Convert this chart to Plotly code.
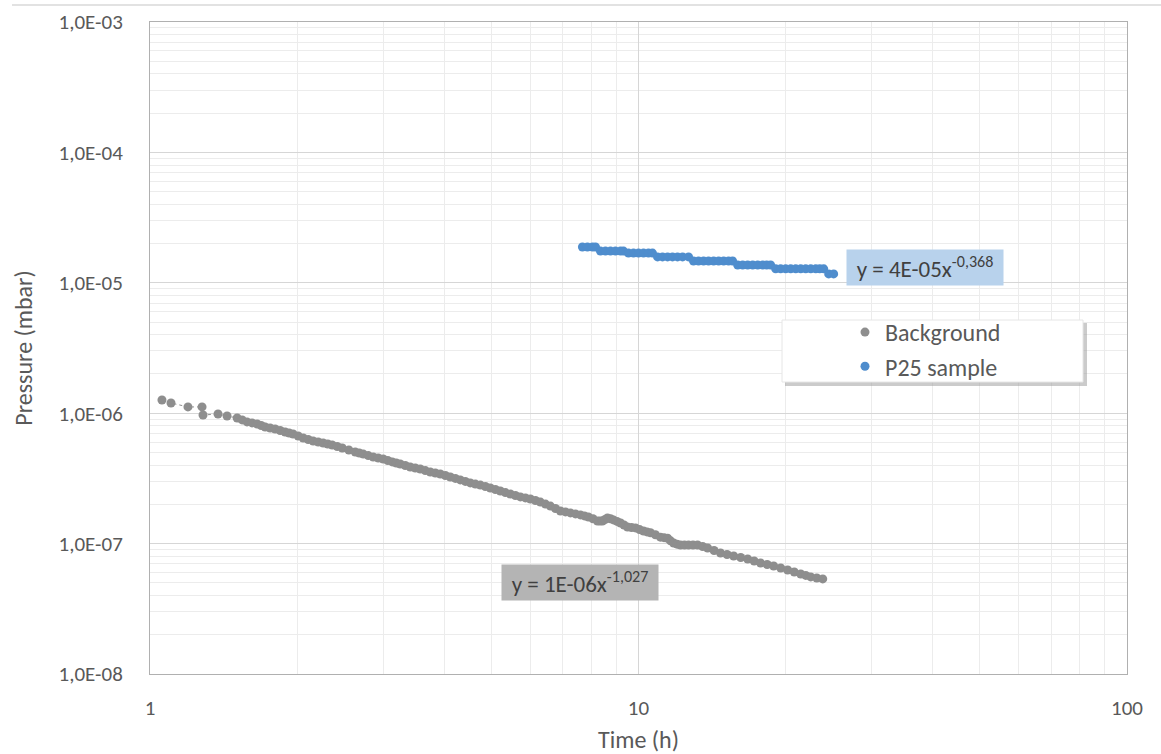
import plotly.graph_objects as go

# ---- Data ----
bg_time = [1.058, 1.104, 1.196, 1.278, 1.284, 1.378, 1.438, 1.508, 1.544, 1.580,
           1.618, 1.657, 1.689, 1.721, 1.762, 1.804, 1.847, 1.891, 1.927, 1.963,
           2.011, 2.059, 2.108, 2.158, 2.210, 2.262, 2.311, 2.360, 2.417, 2.475,
           2.553, 2.631, 2.682, 2.733, 2.798, 2.864, 2.933, 3.002, 3.067, 3.133,
           3.193, 3.253, 3.331, 3.410, 3.492, 3.575, 3.661, 3.748, 3.838, 3.929,
           4.024, 4.119, 4.218, 4.317, 4.421, 4.526, 4.635, 4.745, 4.859, 4.974,
           5.094, 5.214, 5.340, 5.466, 5.598, 5.731, 5.869, 6.008, 6.153, 6.298,
           6.450, 6.602, 6.761, 6.921, 7.088, 7.255, 7.430, 7.605, 7.751, 7.897,
           8.069, 8.241, 8.339, 8.437, 8.538, 8.640, 8.764, 8.888, 9.037, 9.187,
           9.340, 9.494, 9.677, 9.860, 10.05, 10.24, 10.41, 10.58, 10.83, 11.09,
           11.28, 11.47, 11.63, 11.80, 11.99, 12.19, 12.42, 12.66, 12.93, 13.21,
           13.53, 13.85, 14.28, 14.72, 15.18, 15.66, 16.19, 16.73, 17.25, 17.78,
           18.34, 18.91, 19.55, 20.20, 20.84, 21.48, 22.00, 22.52, 23.17, 23.83]
bg_pressure = [1.262e-6, 1.198e-6, 1.117e-6, 1.117e-6, 9.68e-7, 9.86e-7, 9.52e-7, 9.19e-7, 8.88e-7, 8.57e-7,
               8.42e-7, 8.27e-7, 8.05e-7, 7.83e-7, 7.70e-7, 7.56e-7, 7.37e-7, 7.18e-7, 7.05e-7, 6.92e-7,
               6.68e-7, 6.45e-7, 6.28e-7, 6.12e-7, 6.01e-7, 5.91e-7, 5.80e-7, 5.70e-7, 5.55e-7, 5.41e-7,
               5.22e-7, 5.04e-7, 4.95e-7, 4.86e-7, 4.73e-7, 4.61e-7, 4.53e-7, 4.45e-7, 4.34e-7, 4.23e-7,
               4.15e-7, 4.08e-7, 3.97e-7, 3.87e-7, 3.80e-7, 3.73e-7, 3.63e-7, 3.54e-7, 3.48e-7, 3.42e-7,
               3.33e-7, 3.24e-7, 3.16e-7, 3.08e-7, 3.00e-7, 2.92e-7, 2.86e-7, 2.81e-7, 2.74e-7, 2.67e-7,
               2.60e-7, 2.53e-7, 2.46e-7, 2.40e-7, 2.34e-7, 2.28e-7, 2.24e-7, 2.20e-7, 2.14e-7, 2.08e-7,
               2.01e-7, 1.94e-7, 1.86e-7, 1.78e-7, 1.75e-7, 1.72e-7, 1.69e-7, 1.66e-7, 1.63e-7, 1.60e-7,
               1.55e-7, 1.49e-7, 1.49e-7, 1.49e-7, 1.53e-7, 1.57e-7, 1.55e-7, 1.52e-7, 1.48e-7, 1.44e-7,
               1.39e-7, 1.34e-7, 1.33e-7, 1.32e-7, 1.28e-7, 1.25e-7, 1.23e-7, 1.21e-7, 1.17e-7, 1.12e-7,
               1.11e-7, 1.10e-7, 1.05e-7, 1.01e-7, 9.90e-8, 9.75e-8, 9.75e-8, 9.75e-8, 9.75e-8, 9.75e-8,
               9.50e-8, 9.25e-8, 8.86e-8, 8.47e-8, 8.25e-8, 8.04e-8, 7.83e-8, 7.62e-8, 7.36e-8, 7.10e-8,
               6.91e-8, 6.73e-8, 6.50e-8, 6.28e-8, 6.06e-8, 5.85e-8, 5.70e-8, 5.55e-8, 5.45e-8, 5.36e-8]

p25_time = [7.677, 7.861, 8.050, 8.165,
            8.358, 8.558, 8.763, 8.972, 9.187, 9.317,
            9.539, 9.767, 10.00, 10.24, 10.48, 10.68,
            10.94, 11.20, 11.47, 11.74, 12.02, 12.31, 12.66,
            12.96, 13.27, 13.59, 13.91, 14.25, 14.59, 14.94, 15.29, 15.58,
            15.96, 16.34, 16.73, 17.13, 17.54, 17.96, 18.30, 18.64,
            19.09, 19.54, 20.01, 20.49, 20.98, 21.48, 21.99, 22.52, 23.06, 23.50, 23.94,
            24.51, 25.09]
p25_pressure = [1.88e-5, 1.88e-5, 1.88e-5, 1.88e-5,
                1.75e-5, 1.75e-5, 1.75e-5, 1.75e-5, 1.75e-5, 1.75e-5,
                1.69e-5, 1.69e-5, 1.69e-5, 1.69e-5, 1.69e-5, 1.69e-5,
                1.58e-5, 1.58e-5, 1.58e-5, 1.58e-5, 1.58e-5, 1.58e-5, 1.58e-5,
                1.47e-5, 1.47e-5, 1.47e-5, 1.47e-5, 1.47e-5, 1.47e-5, 1.47e-5, 1.47e-5, 1.47e-5,
                1.37e-5, 1.37e-5, 1.37e-5, 1.37e-5, 1.37e-5, 1.37e-5, 1.37e-5, 1.37e-5,
                1.28e-5, 1.28e-5, 1.28e-5, 1.28e-5, 1.28e-5, 1.28e-5, 1.28e-5, 1.28e-5, 1.28e-5, 1.28e-5, 1.28e-5,
                1.17e-5, 1.17e-5]

x_tick_vals = [1, 10, 100]
x_tick_text = ["1", "10", "100"]
y_tick_vals = [1e-8, 1e-7, 1e-6, 1e-5, 1e-4, 1e-3]
y_tick_text = ["1,0E-08", "1,0E-07", "1,0E-06", "1,0E-05", "1,0E-04", "1,0E-03"]

series_names = ["Background", "P25 sample"]
fit_labels = ["y = 1E-06x<sup>-1,027</sup>", "y = 4E-05x<sup>-0,368</sup>"]

GREY = "#8e8e8e"
BLUE = "#4f8dcd"
TXT = "#595959"
FONT = "Carlito, Lato, sans-serif"

fig = go.Figure()
fig.add_trace(go.Scatter(
    x=bg_time, y=bg_pressure, mode="lines", showlegend=False, hoverinfo="skip",
    line=dict(color=GREY, width=1, dash="dot"),
))
fig.add_trace(go.Scatter(
    x=bg_time, y=bg_pressure, name=series_names[0], mode="markers",
    marker=dict(color=GREY, size=9), legendgroup="a",
))
fig.add_trace(go.Scatter(
    x=p25_time, y=p25_pressure, name=series_names[1], mode="markers",
    marker=dict(color=BLUE, size=9), legendgroup="b",
))

W, H = 1161, 754
ML, MT = 150, 22
MR = W - 1127
MB = H - 674
PW, PH = W - ML - MR, H - MT - MB


def px(xp):
    return (xp - ML) / PW


def py(yp):
    return (H - MB - yp) / PH


fig.update_xaxes(
    type="log", range=[0, 2], tickvals=x_tick_vals, ticktext=x_tick_text,
    showgrid=True, gridcolor="#d6d6d6", gridwidth=1,
    minor=dict(dtick="D1", showgrid=True, gridcolor="#ececec", gridwidth=1, ticks=""),
    showline=True, linecolor="#b0b0b0", linewidth=1, mirror=True,
    ticks="outside", ticklen=15, tickcolor="rgba(0,0,0,0)",
    tickfont=dict(family=FONT, size=21, color=TXT),
    title=dict(text="Time (h)", font=dict(family=FONT, size=24, color=TXT), standoff=20),
    zeroline=False,
)
fig.update_yaxes(
    type="log", range=[-8, -3], tickvals=y_tick_vals, ticktext=y_tick_text,
    showgrid=True, gridcolor="#d6d6d6", gridwidth=1,
    minor=dict(dtick="D1", showgrid=True, gridcolor="#ececec", gridwidth=1, ticks=""),
    showline=True, linecolor="#b0b0b0", linewidth=1, mirror=True,
    ticks="outside", ticklen=22, tickcolor="rgba(0,0,0,0)",
    tickfont=dict(family=FONT, size=21, color=TXT),
    title=dict(text="Pressure (mbar)", font=dict(family=FONT, size=24, color=TXT), standoff=19),
    zeroline=False,
)

shapes = [
    # thin top rule of the chart frame
    dict(type="line", xref="paper", yref="paper", x0=px(12), x1=px(1161), y0=py(5), y1=py(5),
         line=dict(color="#d9d9d9", width=1.5)),
    # legend shadow
    dict(type="rect", xref="paper", yref="paper", x0=px(785), x1=px(1087), y0=py(323), y1=py(386),
         fillcolor="#a0a0a0", line=dict(width=0), layer="above", opacity=0.55),
    # legend box
    dict(type="rect", xref="paper", yref="paper", x0=px(782), x1=px(1083), y0=py(320), y1=py(382),
         fillcolor="white", line=dict(color="#e6e6e6", width=1), layer="above"),
]

annotations = [
    dict(xref="paper", yref="paper", x=px(580), y=py(582), xanchor="center", yanchor="middle",
         text=fit_labels[0], showarrow=False,
         bgcolor="#b4b4b4", width=152, height=31, borderpad=2,
         font=dict(family=FONT, size=23, color="#404040")),
    dict(xref="paper", yref="paper", x=px(925), y=py(267), xanchor="center", yanchor="middle",
         text=fit_labels[1], showarrow=False,
         bgcolor="#b8d2ec", width=152, height=31, borderpad=2,
         font=dict(family=FONT, size=23, color="#404040")),
]

fig.update_layout(
    width=W, height=H,
    margin=dict(l=ML, r=MR, t=MT, b=MB, autoexpand=False),
    paper_bgcolor="white", plot_bgcolor="white",
    shapes=shapes, annotations=annotations,
    showlegend=True,
    legend=dict(x=px(845), y=py(310), xanchor="left", yanchor="top",
                bgcolor="rgba(0,0,0,0)", borderwidth=0,
                font=dict(family=FONT, size=24, color=TXT),
                traceorder="grouped", tracegroupgap=0, itemwidth=30),
)

# remove the default 8px page margin so the figure fills the window exactly
fig.write_html("out.html",
               config={"displayModeBar": False},
               post_script="document.body.style.margin='0';document.body.style.overflow='hidden';")
